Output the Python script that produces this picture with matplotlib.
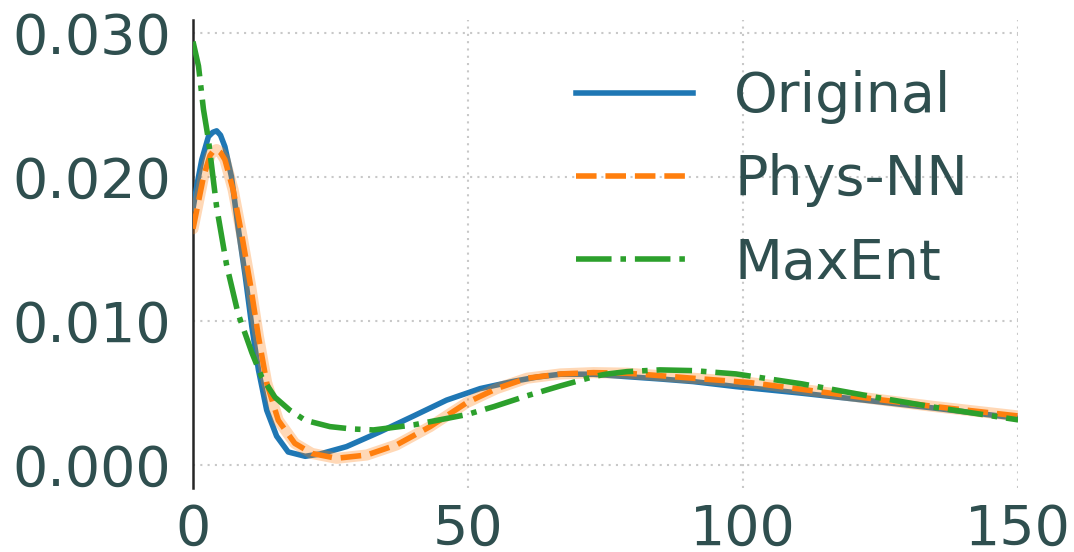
import matplotlib
matplotlib.use("Agg")
import matplotlib.pyplot as plt

# curvas de densidad: original, red con fisica y maxima entropia
x_orig = [0, 0.8, 1.6, 2.8, 3.6, 4.3, 5.0, 5.8, 7.0, 8.2, 9.5, 10.7, 11.9, 13.4, 15.2,
          17.3, 20.4, 23.1, 27.9, 34.0, 40.1, 46.1, 52.2, 58.2, 62.5, 66.8, 72.8,
          78.9, 84.9, 90.9, 98.7, 110.7, 122.8, 134.9, 150]
y_orig = [0.0178, 0.0196, 0.0212, 0.0228, 0.0231, 0.0232, 0.0229, 0.0221, 0.0200,
          0.0165, 0.0131, 0.0096, 0.0066, 0.0038, 0.0020, 0.0009, 0.0006, 0.00076,
          0.00127, 0.0023, 0.0034, 0.0045, 0.0053, 0.0058, 0.0061, 0.0063, 0.0063,
          0.00613, 0.00597, 0.00579, 0.00544, 0.00498, 0.00447, 0.00394, 0.00324]

x_nn = [0, 1.0, 1.9, 3.1, 3.7, 4.3, 5.0, 5.8, 7.3, 8.9, 10.4, 11.9, 13.4, 15.5, 18.5,
        21.6, 26.1, 31.6, 37.0, 43.1, 49.8, 55.2, 60.7, 66.8, 72.8, 78.9, 84.9, 90.9,
        101.2, 110.7, 122.8, 134.9, 150]
y_nn = [0.0164, 0.0183, 0.0200, 0.0215, 0.0218, 0.0219, 0.0217, 0.0212, 0.0191,
        0.0159, 0.0126, 0.0089, 0.0057, 0.0031, 0.0015, 0.0008, 0.00046, 0.00069,
        0.00139, 0.00266, 0.00433, 0.0053, 0.00602, 0.00632, 0.00641, 0.00637,
        0.0062, 0.00602, 0.00572, 0.00525, 0.00463, 0.00405, 0.0034]

x_me = [0, 1.0, 1.9, 2.8, 4.3, 6.1, 8.2, 10.7, 12.5, 14.9, 17.6, 20.4, 24.9, 28.8,
        32.8, 40.1, 49.8, 54.7, 60.7, 66.8, 72.8, 75.0, 78.9, 84.9, 90.9, 98.7,
        110.7, 122.8, 134.9, 150]
y_me = [0.0294, 0.0277, 0.0247, 0.0226, 0.0179, 0.0139, 0.0105, 0.0078, 0.0061,
        0.0047, 0.0038, 0.0031, 0.00266, 0.0025, 0.00243, 0.00278, 0.0035, 0.00405,
        0.0048, 0.00549, 0.00613, 0.0063, 0.00648, 0.0066, 0.00655, 0.00632,
        0.00563, 0.00479, 0.004, 0.00313]

etiquetas = ["Original", "Phys-NN", "MaxEnt"]

texto = "#2F4F4F"
plt.rcParams["font.family"] = "DejaVu Sans"
plt.rcParams["font.size"] = 40

fig = plt.figure(figsize=(10.74, 5.52), dpi=100)
ax = fig.add_axes([0.1797, 0.116, 0.948 - 0.1797, 0.9638 - 0.116])

ax.plot(x_orig, y_orig, color="#1f77b4", lw=4, label=etiquetas[0], zorder=3)
# banda clara detras de la curva de la red
ax.plot(x_nn, y_nn, color="#ff7f0e", lw=8, alpha=0.3, solid_capstyle="round", zorder=3)
ax.plot(x_nn, y_nn, color="#ff7f0e", lw=4, ls="--", label=etiquetas[1], zorder=4)
ax.plot(x_me, y_me, color="#2ca02c", lw=4, ls="-.", label=etiquetas[2], zorder=5)

ax.set_xlim(0, 150)
ax.set_ylim(-0.0016, 0.0309)
ax.set_xticks([0, 50, 100, 150])
ax.set_yticks([0.0, 0.01, 0.02, 0.03])
ax.set_yticklabels(["0.000", "0.010", "0.020", "0.030"])
ax.tick_params(axis="both", length=0, colors=texto, labelsize=40)
ax.tick_params(axis="y", pad=16)
ax.tick_params(axis="x", pad=11)

for lado in ["top", "right", "bottom"]:
    ax.spines[lado].set_visible(False)
ax.spines["left"].set_color("#262626")
ax.spines["left"].set_linewidth(1.8)

ax.grid(True, color="#c8c8c8", lw=1.5, ls=(0, (1, 2.5)))
ax.set_axisbelow(True)

leg = ax.legend(loc="upper right", frameon=False, handlelength=2.1, labelspacing=0.53,
                handletextpad=0.75)
for t in leg.get_texts():
    t.set_color(texto)

fig.savefig("out.png", dpi=100)
